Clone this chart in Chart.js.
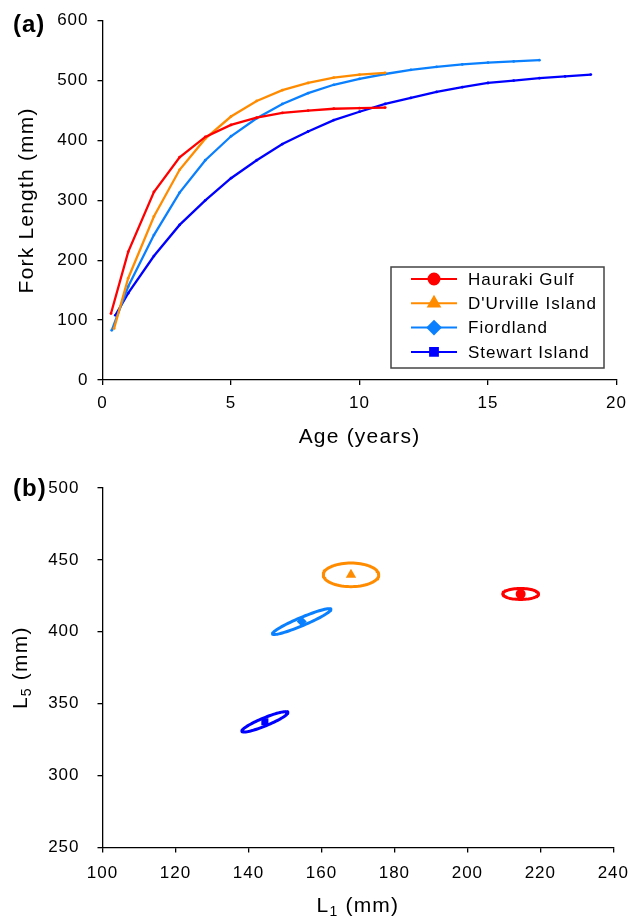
<!DOCTYPE html>
<html>
<head>
<meta charset="utf-8">
<script src="https://cdn.jsdelivr.net/npm/chart.js@4.4.1/dist/chart.umd.min.js"></script>
<style>
  html, body { margin: 0; padding: 0; background: #fff; }
  .panel { width: 640px; height: 458px; }
</style>
</head>
<body>
<div class="panel"><canvas id="chartGrowth" width="640" height="458"></canvas></div>
<div class="panel"><canvas id="chartLengths" width="640" height="458"></canvas></div>
<script>
// ── Data ─────────────────────────────────────────────────────────
const regions = ["Hauraki Gulf", "D'Urville Island", "Fiordland", "Stewart Island"];
const colors  = ["#FF0000", "#FF8C00", "#0A80FF", "#0000FF"];
const markers = ["circle", "triangle", "rectRot", "rect"];

// (a) fitted growth curves: age (years) vs fork length (mm)
const haurakiAge   = [0.33, 1, 2, 3, 4, 5, 6, 7, 8, 9, 10, 11];
const haurakiFL    = [111, 214, 314, 372, 406, 426, 438, 446, 450, 453, 454, 455];
const durvilleAge  = [0.45, 1, 2, 3, 4, 5, 6, 7, 8, 9, 10, 11];
const durvilleFL   = [86, 170, 273, 351, 403, 440, 466, 484, 496, 505, 510, 513];
const fiordlandAge = [0.36, 1, 2, 3, 4, 5, 6, 7, 8, 9, 10, 11, 12, 13, 14, 15, 16, 17];
const fiordlandFL  = [83, 156, 242, 313, 367, 407, 437, 461, 479, 493, 503, 511, 518, 523, 527, 530, 532, 534];
const stewartAge   = [0.5, 1, 2, 3, 4, 5, 6, 7, 8, 9, 10, 11, 12, 13, 14, 15, 16, 17, 18, 19];
const stewartFL    = [108, 145, 207, 259, 300, 337, 367, 394, 415, 434, 448, 461, 471, 481, 489, 496, 500, 504, 507, 510];

// (b) mean L1 / L5 and confidence ellipse half-axes (mm)
const meanL1    = [214.6, 168.1, 154.6, 144.5];
const meanL5    = [426.3, 439.6, 407.1, 337.4];
const ellMajor  = [[4.9, 0], [7.6, 0], [8.0, 8.6], [6.3, 6.6]];
const ellMinor  = [[0, 3.8], [0, 8.2], [0.45, -2.6], [0.41, -2.6]];

const xTicksA = [0, 20, 5];
const yTicksA = [0, 600, 100];
const xTicksB = [100, 240, 20];
const yTicksB = [250, 500, 50];

const FONT = "'Liberation Sans', Arial, sans-serif";

function toPoints(xs, ys) {
  return xs.map((x, i) => ({ x, y: ys[i] }));
}

// outline of an ellipse in data units, centre + u·cos t + v·sin t
function ellipseOutline(cx, cy, u, v) {
  const pts = [];
  for (let k = 0; k <= 73; k++) {
    const t = k / 72 * 2 * Math.PI;
    pts.push({ x: cx + u[0] * Math.cos(t) + v[0] * Math.sin(t),
               y: cy + u[1] * Math.cos(t) + v[1] * Math.sin(t) });
  }
  return pts;
}

// ── Shared plugins ───────────────────────────────────────────────
const spacingPlugin = {
  id: "spacing",
  beforeLayout(chart) { chart.ctx.letterSpacing = "1px"; },
  beforeDraw(chart)   { chart.ctx.letterSpacing = "1px"; }
};

// draws text pieces (with optional subscripts) centred on (x, y)
function drawRich(ctx, parts, x, y) {
  const fontOf = p => (p.sub ? "14px " : "21px ") + FONT;
  ctx.letterSpacing = "1.2px";
  const widths = parts.map(p => {
    ctx.font = fontOf(p);
    return ctx.measureText(p.t).width;
  });
  let cur = x - widths.reduce((a, b) => a + b, 0) / 2;
  parts.forEach((p, i) => {
    ctx.font = fontOf(p);
    ctx.fillText(p.t, cur, y + (p.sub ? 6 : 0));
    cur += widths[i];
  });
}

const panelTextPlugin = {
  id: "panelText",
  afterDraw(chart, args, opts) {
    const ctx = chart.ctx;
    const area = chart.chartArea;
    ctx.save();
    ctx.letterSpacing = "1px";
    ctx.fillStyle = "#000";
    ctx.textAlign = "left";
    ctx.textBaseline = "middle";
    ctx.font = "bold 24px " + FONT;
    ctx.fillText(opts.tag, 13, opts.tagY);

    const cx = (area.left + area.right) / 2;
    drawRich(ctx, opts.xTitle, cx, opts.xTitleY);

    ctx.translate(opts.yTitleX, (area.top + area.bottom) / 2);
    ctx.rotate(-Math.PI / 2);
    drawRich(ctx, opts.yTitle, 0, 0);
    ctx.restore();
  }
};

const legendBoxPlugin = {
  id: "legendBox",
  afterDraw(chart, args, opts) {
    const ctx = chart.ctx;
    const { left, top, width, height, rowH } = opts;
    ctx.save();
    ctx.strokeStyle = "#444";
    ctx.lineWidth = 1.5;
    ctx.strokeRect(left, top, width, height);
    chart.data.datasets.forEach((ds, i) => {
      const y = top + 12 + i * rowH;
      ctx.strokeStyle = ds.borderColor;
      ctx.lineWidth = 2;
      ctx.beginPath(); ctx.moveTo(left + 20, y); ctx.lineTo(left + 66, y); ctx.stroke();
      ctx.fillStyle = ds.borderColor;
      Chart.helpers.drawPoint(ctx, {
        pointStyle: markers[i], radius: markers[i] === "circle" || markers[i] === "rect" ? 5.5 : 6.5,
        rotation: 0, borderWidth: 1
      }, left + 43, y);
      ctx.fill();
      ctx.fillStyle = "#000";
      ctx.font = "17px " + FONT;
      ctx.letterSpacing = "1px";
      ctx.textAlign = "left";
      ctx.textBaseline = "middle";
      ctx.fillText(ds.label, left + 77, y + 1);
    });
    ctx.restore();
  }
};

function axisStyle(range, fixedSize, isX, pad) {
  return {
    type: "linear",
    min: range[0], max: range[1],
    ticks: {
      stepSize: range[2], color: "#000", padding: pad,
      font: { size: 17, family: FONT }
    },
    grid:   { drawOnChartArea: false, drawTicks: true, tickLength: 5, color: "#000", lineWidth: 1.3 },
    border: { color: "#000", width: 1.3 },
    afterFit(axis) {
      if (isX) axis.height = fixedSize; else axis.width = fixedSize;
    }
  };
}

// ── (a) growth curves ────────────────────────────────────────────
const growthSeries = [
  [haurakiAge, haurakiFL], [durvilleAge, durvilleFL],
  [fiordlandAge, fiordlandFL], [stewartAge, stewartFL]
];

new Chart(document.getElementById("chartGrowth"), {
  type: "line",
  data: {
    datasets: growthSeries.map(([ages, fl], i) => ({
      label: regions[i],
      data: toPoints(ages, fl),
      borderColor: colors[i],
      backgroundColor: colors[i],
      borderWidth: 2.3,
      pointRadius: 1.4,
      pointBorderWidth: 0,
      tension: 0,
      fill: false,
    }))
  },
  plugins: [spacingPlugin, panelTextPlugin, legendBoxPlugin],
  options: {
    responsive: false,
    animation: false,
    layout: { padding: { left: 0, right: 23.5, top: 20.7, bottom: 0 } },
    plugins: {
      legend: { display: false },
      tooltip: { enabled: false },
      panelText: {
        tag: "(a)", tagY: 25,
        xTitle: [{ t: "Age (years)" }], xTitleY: 437,
        yTitle: [{ t: "Fork Length (mm)" }], yTitleX: 27
      },
      legendBox: { left: 391, top: 267, width: 213, height: 101, rowH: 24.3 }
    },
    scales: {
      x: axisStyle(xTicksA, 78, true, 8),
      y: axisStyle(yTicksA, 102.5, false, 9)
    }
  }
});

// ── (b) L1 vs L5 with confidence ellipses ───────────────────────
const ellipseSets = regions.map((name, i) => ({
  label: name + " ellipse",
  data: ellipseOutline(meanL1[i], meanL5[i], ellMajor[i], ellMinor[i]),
  showLine: true,
  borderColor: colors[i],
  borderWidth: 3,
  borderCapStyle: "round",
  borderJoinStyle: "round",
  pointRadius: 0,
  tension: 0,
}));
const meanSets = regions.map((name, i) => ({
  label: name,
  data: [{ x: meanL1[i], y: meanL5[i] }],
  pointStyle: markers[i],
  pointRadius: markers[i] === "triangle" ? 6 : 5,
  backgroundColor: colors[i],
  borderColor: colors[i],
  borderWidth: 0,
}));

new Chart(document.getElementById("chartLengths"), {
  type: "scatter",
  data: { datasets: [...ellipseSets, ...meanSets] },
  plugins: [spacingPlugin, panelTextPlugin],
  options: {
    responsive: false,
    animation: false,
    layout: { padding: { left: 0, right: 23.5, top: 30, bottom: 0 } },
    plugins: {
      legend: { display: false },
      tooltip: { enabled: false },
      panelText: {
        tag: "(b)", tagY: 31,
        xTitle: [{ t: "L" }, { t: "1", sub: true }, { t: " (mm)" }], xTitleY: 448,
        yTitle: [{ t: "L" }, { t: "5", sub: true }, { t: " (mm)" }], yTitleX: 21
      }
    },
    scales: {
      x: axisStyle(xTicksB, 458 - 389.5, true, 11),
      y: axisStyle(yTicksB, 102.5, false, 18)
    }
  }
});
</script>
</body>
</html>
